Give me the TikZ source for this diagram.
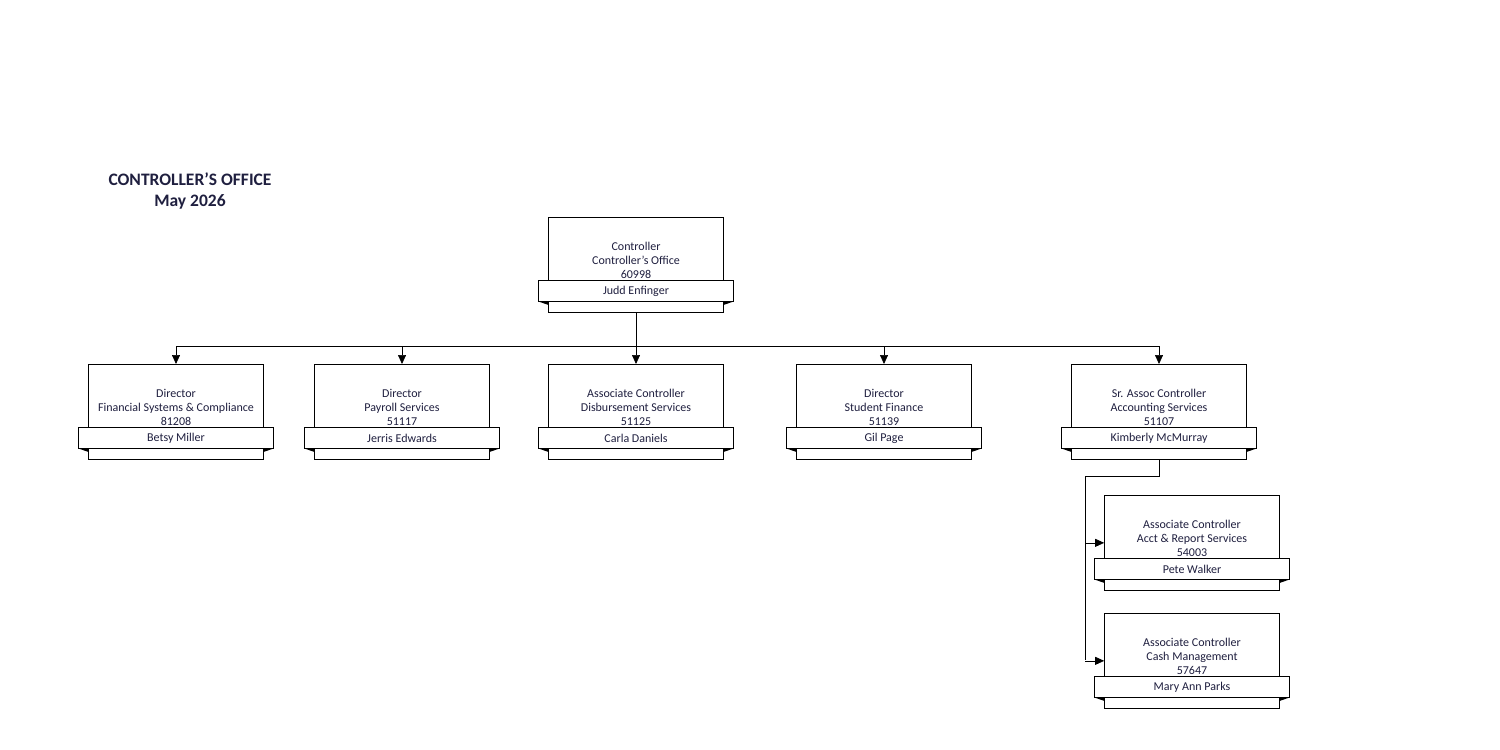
\documentclass[tikz,border=0pt]{standalone}
\usepackage{fontspec}
\setmainfont{Carlito}
\usetikzlibrary{arrows.meta}
\definecolor{txt}{HTML}{1F1F3F}
\tikzset{
  box/.style={draw, line width=0.7pt, fill=white, minimum width=175pt, minimum height=95pt, inner sep=0pt, anchor=north},
  ban/.style={draw, line width=0.7pt, fill=white, minimum width=195pt, minimum height=21pt, inner sep=0pt, text=txt, font=\fontsize{12}{13}\selectfont},
  lbl/.style={align=center, text=txt, font=\fontsize{12}{14}\selectfont, inner sep=0pt},
  con/.style={line width=0.7pt},
  arr/.style={line width=0.7pt, -{Triangle[width=8pt,length=9pt]}},
}
% \orgbox{name}{cx}{top}{lines}{person}
\newcommand{\orgbox}[5]{%
  \node[box] (#1) at (#2,#3) {};
  \node[lbl] (#1t) at (#2,#3+43) {#4};
  \node[ban] (#1b) at (#2,#3+74) {#5};
  \fill[black] (#2-97.5,#3+84.5) -- (#2-87.5,#3+84.5) -- (#2-87.5,#3+88) -- cycle;
  \fill[black] (#2+97.5,#3+84.5) -- (#2+87.5,#3+84.5) -- (#2+87.5,#3+88) -- cycle;
}
\begin{document}
\begin{tikzpicture}[x=1pt,y=-1pt]
\useasboundingbox (0,0) rectangle (1500,750);
\node[font=\bfseries\fontsize{17.5}{21}\selectfont, align=center, text=txt] (title) at (190,191) {CONTROLLER’S OFFICE\\May 2026};
\orgbox{c}{636}{217}{Controller\\Controller's Office\\60998}{Judd Enfinger}
\orgbox{d1}{176}{364}{Director\\Financial Systems \& Compliance\\81208}{Betsy Miller}
\orgbox{d2}{402}{364}{Director\\Payroll Services\\51117}{Jerris Edwards}
\orgbox{d3}{636}{364}{Associate Controller\\Disbursement Services\\51125}{Carla Daniels}
\orgbox{d4}{884}{364}{Director\\Student Finance\\51139}{Gil Page}
\orgbox{d5}{1159}{364}{Sr. Assoc Controller\\Accounting Services\\51107}{Kimberly McMurray}
\orgbox{e1}{1192}{495}{Associate Controller\\Acct \& Report Services\\54003}{Pete Walker}
\orgbox{e2}{1192}{613}{Associate Controller\\Cash Management\\57647}{Mary Ann Parks}
\coordinate (bus) at (636,346);
\coordinate (bl) at (176,346);
\coordinate (br) at (1159,346);
\draw[con] (c.south) -- (bus);
\draw[con] (bl) -- (br);
\foreach \n in {d1,d2,d3,d4,d5} \draw[arr] (\n.north |- bus) -- (\n.north);
\coordinate (j1) at (1159,476);
\coordinate (j2) at (1085,476);
\draw[con] (d5.south) -- (j1) -- (j2) -- (1085,660);
\draw[arr] (j2 |- e1.west) -- (e1.west);
\draw[arr] (j2 |- e2.west) -- (e2.west);
\end{tikzpicture}
\end{document}
